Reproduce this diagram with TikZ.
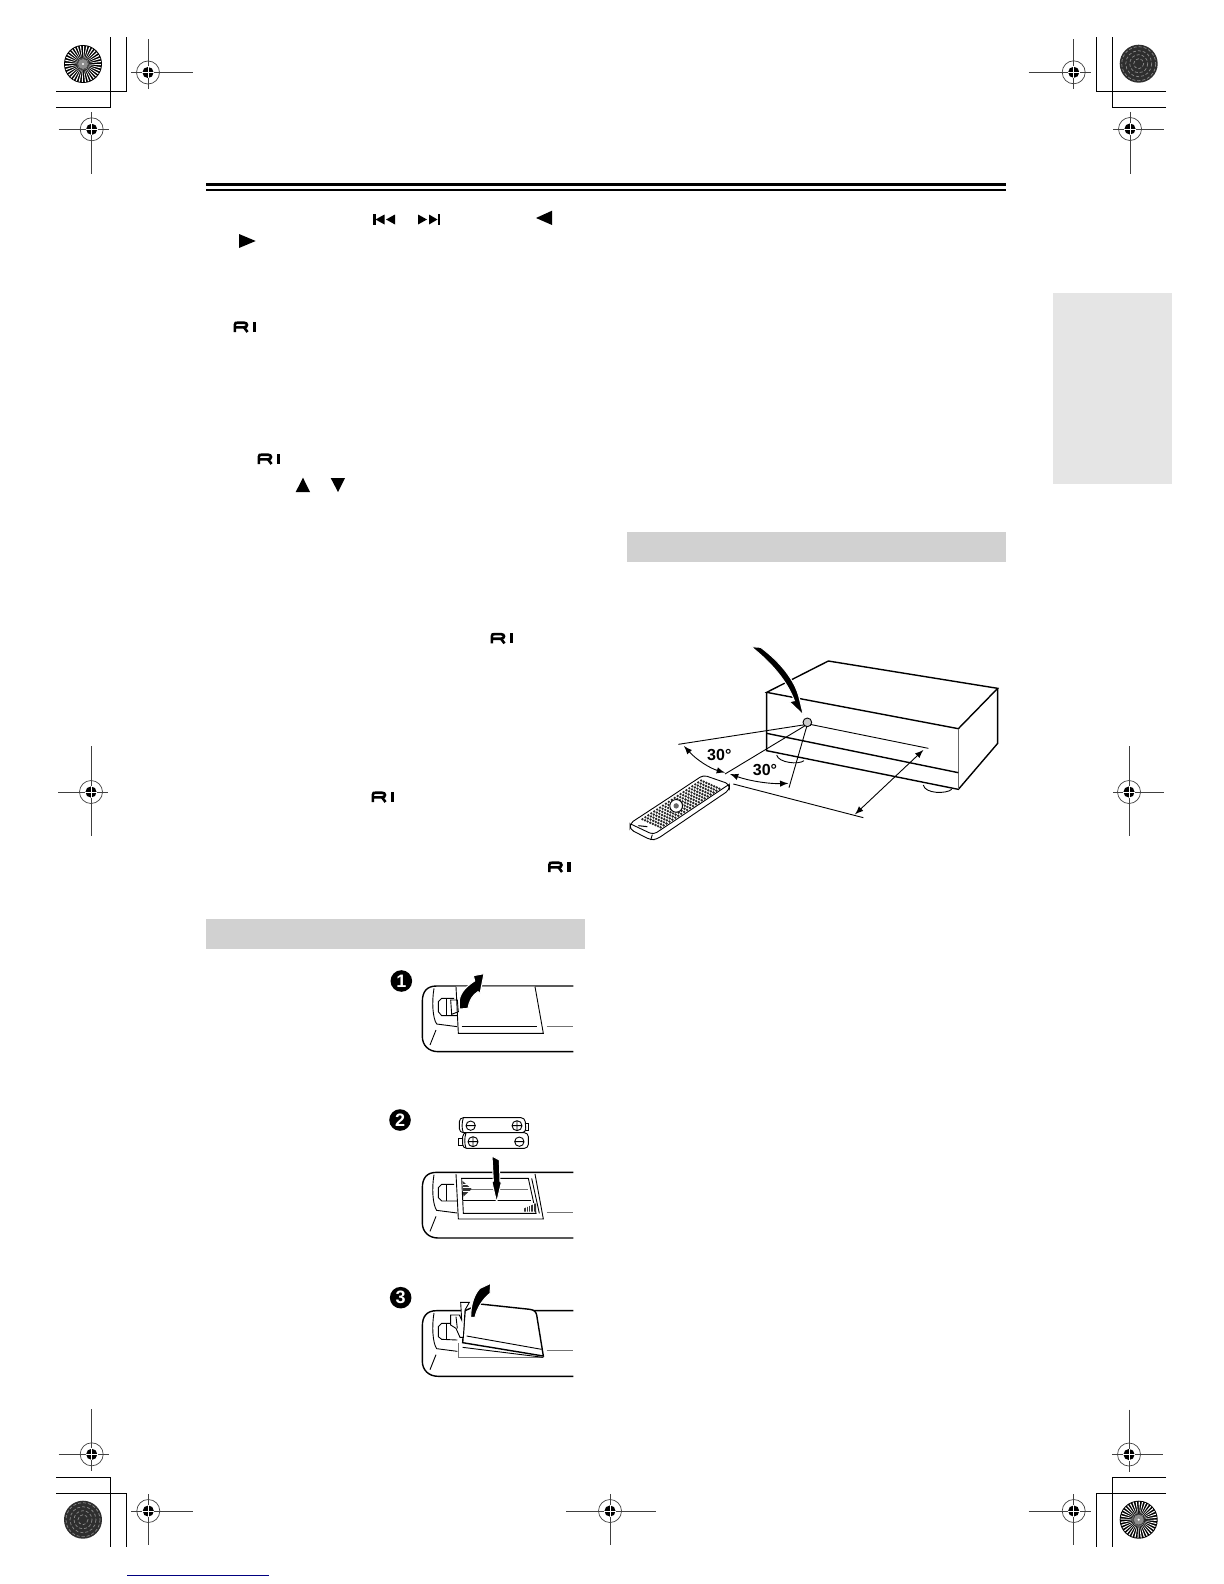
\documentclass[tikz,border=0pt]{standalone}
\usepackage{fontspec}
\setmainfont{Liberation Sans}
\tikzset{
  fine/.style={line width=.35pt,black!75},
  trim/.style={line width=.6pt},
  outline/.style={line width=.7pt},
  thinline/.style={line width=.45pt},
  palegrey/.style={line width=.4pt,black!55},
  bar/.style={fill=black!18},
  swoosh/.style={fill=black,draw=white,line width=.5pt},
  stepdot/.style={circle,fill=black,text=white,inner sep=0pt,minimum size=10.8pt,font=\fontsize{9}{9}\selectfont\bfseries},
  angletag/.style={font=\fontsize{8}{8}\selectfont\bfseries,inner sep=0pt},
  zoomed/.style={shift={(#1)},x=.16667pt,y=-.16667pt},
  pics/regmark/.style n args={4}{code={
    \draw[fine] (-#1,0) -- (#2,0);
    \draw[fine] (0,-#3) -- (0,#4);
    \draw[fine] (0,0) circle (11.5);
    \fill[black] (0,0) circle (5.6);
    \draw[white,line width=.35pt] (-6,0) -- (6,0) (0,-6) -- (0,6);
  }},
  pics/cornermark/.style n args={4}{code={
    % #1,#2 = corner of the outer angle, #3,#4 = far ends
    \draw[trim] (#3,#2) -- (#1,#2) -- (#1,#4);
  }},
  pics/radialdisk/.style={code={
    \fill[black] (0,0) circle (19);
    \foreach \ang in {0,10,...,350}
      \fill[white] (\ang:18) -- (\ang+4:18) -- (\ang+2:4) -- cycle;
    \fill[black!45] (0,0) circle (5);
    \fill[white] (0,0) circle (1.2);
  }},
  pics/darkdisk/.style={code={
    \fill[black!82] (0,0) circle (19);
    \foreach \rad in {5,9,13,17}
      \draw[black!45,line width=.35pt,dash pattern=on 1.5pt off 1pt] (0,0) circle (\rad);
  }},
  pics/logori/.style={code={
    \draw[line width=1.3pt,line cap=butt] (-10.2,5) -- (-10.2,-2) .. controls (-10.2,-4.3) and (-9,-4.3) .. (-7,-4.3) -- (-1,-4.3)
      .. controls (3,-4.3) and (3,.3) .. (-1,.3) -- (-9,.3);
    \draw[line width=1.3pt] (-1,.3) -- (2.5,5);
    \fill (7.5,-5) rectangle (11,5);
  }},
  pics/remoteback/.style={code={
    \draw[outline] (580,93) -- (170,93) .. controls (140,93) and (127,110) .. (127,140) -- (127,245)
      .. controls (127,270) and (145,290) .. (175,290) -- (580,290);
    \draw[thinline] (162,100) .. controls (155,140) and (158,190) .. (170,207) -- (232,215);
    \draw[thinline] (168,225) -- (150,270);
    \draw[palegrey] (500,213) -- (580,213);
  }},
}
\begin{document}
\begin{tikzpicture}[x=.5pt,y=-.5pt,>=latex]
  \useasboundingbox (0,0) rectangle (1224,1584);

  % printer marks
  \pic at (148,72.5) {regmark={17}{45}{33}{17}};
  \pic at (91.7,129.3) {regmark={33}{17}{17}{45}};
  \pic at (1073.7,72.3) {regmark={45}{17}{33}{17}};
  \pic at (1130,129) {regmark={17}{34}{17}{45}};
  \pic at (91,792) {regmark={33}{17}{46}{44}};
  \pic at (1129,792) {regmark={16}{35}{46}{44}};
  \pic at (91.7,1454.3) {regmark={33}{17}{45}{17}};
  \pic at (148.3,1511) {regmark={17}{45}{17}{34}};
  \pic at (610,1511) {regmark={44}{46}{17}{34}};
  \pic at (1073.7,1511) {regmark={45}{17}{17}{34}};
  \pic at (1129,1454.5) {regmark={17}{34}{45}{17}};

  \pic {cornermark={110.3}{107.3}{56}{37}};
  \pic {cornermark={126.5}{91.3}{56}{37}};
  \pic {cornermark={1096.3}{91.3}{1166}{37}};
  \pic {cornermark={1112.3}{107.3}{1166}{37}};
  \pic {cornermark={110.3}{1477.3}{56}{1546.7}};
  \pic {cornermark={126.5}{1493.3}{56}{1546.7}};
  \pic {cornermark={1096.3}{1493.3}{1166}{1546.7}};
  \pic {cornermark={1112.3}{1477.3}{1166}{1546.7}};

  \pic at (83,64) {radialdisk};
  \pic at (1138.7,63.7) {darkdisk};
  \pic at (83,1519.7) {darkdisk};
  \pic at (1138.7,1519.7) {radialdisk};

  \draw[line width=.6pt,blue!50!black] (127,1575.3) -- (269,1575.3);

  % page furniture
  \draw[line width=1.8pt] (206,184.5) -- (1006,184.5);
  \draw[line width=.6pt] (206,190) -- (1006,190);
  \fill[black!10] (1052.5,293) rectangle (1172,484);
  \fill[bar] (627,531.5) rectangle (1006,561.5);
  \fill[bar] (206,918.5) rectangle (584.5,949);

  % transport symbols
  \fill (373,214) rectangle (375.5,225);
  \fill (375.5,219.5) -- (384.5,214.5) -- (384.5,224.5) -- cycle;
  \fill (386,219.5) -- (395,214.5) -- (395,224.5) -- cycle;
  \fill (437.5,214) rectangle (440,225);
  \fill (429,214.5) -- (437.5,219.5) -- (429,224.5) -- cycle;
  \fill (418,214.5) -- (427,219.5) -- (418,224.5) -- cycle;
  \fill (536,218) -- (552,210.7) -- (552,225) -- cycle;
  \fill (239,234) -- (255.7,241) -- (239,248) -- cycle;
  \fill (303,477.7) -- (310,492) -- (295.7,492) -- cycle;
  \fill (330.7,478) -- (345,478) -- (338,492) -- cycle;
  \foreach \spot in {(245,327),(269,459),(502,638.4),(383,797),(559.5,867)}
    \pic at \spot {logori};

  % first panel
  \begin{scope}[zoomed={380,955}]
    \pic {remoteback};
    \draw[thinline] (222,130) -- (185,130) -- (175,140) -- (175,170) -- (185,182) -- (232,182);
    \draw[thinline] (200,132) -- (200,180);
    \draw[thinline,fill=white] (228,95) -- (235,235) -- (490,235) -- (465,95);
    \draw[thinline] (245,213) -- (472,213);
    \draw[thinline] (212,135) -- (232,135) -- (235,170) -- (215,178) -- cycle;
    \draw[swoosh] (238,162) -- (264,160) .. controls (268,135) and (278,120) .. (294,110) -- (300,116)
      -- (312,56) -- (280,62) -- (284,78) .. controls (262,92) and (242,110) .. (238,135) -- cycle;
    \node[stepdot] (stepone) at (64,78) {1};
  \end{scope}

  % second panel
  \begin{scope}[zoomed={380,1095}]
    \begin{scope}[yshift=-23.17pt]
      \pic {remoteback};
    \end{scope}
    \draw[thinline] (222,268) -- (185,268) -- (175,278) -- (175,308) -- (185,318) -- (232,318);
    \draw[thinline] (200,270) -- (200,318);
    \draw[thinline,fill=white] (228,237) -- (235,372) -- (490,372) -- (465,237);
    \draw[thinline] (245,250) -- (250,355) -- (468,355) -- (445,250) -- cycle;
    \draw[thinline] (455,250) -- (478,355);
    \draw[palegrey] (272,283) -- (445,283);
    \draw[thinline] (250,317) -- (452,317);
    \fill[black!80] (248,258) -- (275,282) -- (250,305) -- cycle;
    \foreach \row in {268,278,288}
      \draw[white,line width=.3pt] (248,\row) -- (272,\row);
    \fill[black!80] (432,350) -- (432,340) -- (468,325) -- (468,350) -- cycle;
    \foreach \col in {438,445,452,459}
      \draw[white,line width=.3pt] (\col,325) -- (\col,352);
    \draw[swoosh] (336,183) -- (358,195) -- (360,260) -- (364,262) -- (350,322) -- (336,262) -- (340,258) -- cycle;
    % batteries
    \draw[thinline,fill=white] (435,85) -- (445,85) -- (445,105) -- (435,105);
    \draw[thinline,fill=white] (250,130) -- (235,130) -- (235,150) -- (250,150);
    \draw[thinline,rounded corners=2pt,fill=white] (238,68) -- (435,68) -- (438,113) -- (238,113) -- cycle;
    \draw[thinline,rounded corners=2pt,fill=white] (248,113) -- (445,113) -- (445,160) -- (248,160) -- cycle;
    \draw[thinline] (250,68) .. controls (245,85) and (245,100) .. (250,113);
    \draw[thinline] (258,113) .. controls (253,130) and (253,145) .. (258,160);
    \draw[thinline] (272,92) circle (14) (258,92) -- (286,92);
    \draw[thinline] (411,92) circle (15) (396,92) -- (426,92) (411,77) -- (411,107);
    \draw[thinline] (279,140) circle (15) (264,140) -- (294,140) (279,125) -- (279,155);
    \draw[thinline] (418,140) circle (14) (404,140) -- (432,140);
    \node[stepdot] (steptwo) at (60,75) {2};
  \end{scope}

  % third panel
  \begin{scope}[zoomed={380,1260}]
    \begin{scope}[yshift=-9.83pt]
      \pic {remoteback};
    \end{scope}
    \draw[thinline] (222,190) -- (185,190) -- (175,200) -- (175,230) -- (185,238) -- (232,240);
    \draw[thinline] (200,192) -- (200,238);
    \draw[palegrey] (235,250) -- (235,293) -- (490,293);
    \draw[outline,fill=white] (255,152) -- (300,132) -- (450,148) .. controls (462,150) and (468,155) .. (470,165)
      -- (490,288) -- (248,248) -- cycle;
    \draw[thinline] (260,228) -- (485,268);
    \draw[thinline] (248,262) -- (490,292);
    \draw[thinline,fill=white] (242,127) -- (268,127) -- (255,150) -- (250,232) -- (240,232) -- (228,205)
      -- (212,195) -- (212,165) -- (238,165) -- (245,180) -- cycle;
    \draw[thinline] (228,170) -- (232,205);
    \draw[swoosh] (272,172) -- (285,172) .. controls (290,145) and (310,115) .. (330,100) -- (332,70)
      -- (300,85) .. controls (285,100) and (272,130) .. cycle;
    \node[stepdot] (stepthree) at (62,113) {3};
  \end{scope}

  % receiver
  \begin{scope}[zoomed={610,630}]
    \draw[thinline] (500,375) .. controls (505,398) and (565,405) .. (582,392);
    \draw[thinline] (940,465) .. controls (945,492) and (1010,492) .. (1025,478);
    \draw[outline] (470,187) -- (655,93) -- (1163,175) -- (1045,296) -- cycle;
    \draw[outline] (470,187) -- (470,362) -- (1045,478) -- (1163,340) -- (1163,175);
    \draw[thinline,black!60] (1045,296) -- (1045,478);
    \draw[outline] (470,310) -- (1045,428);
    \draw[thinline] (600,283) -- (955,355);
    \draw[thinline] (592,283) -- (205,343);
    \draw[thinline] (592,283) -- (345,432);
    \draw[thinline] (592,283) -- (537,473);
    \draw[thinline] (370,462) -- (760,563);
    \draw[thinline,fill=black!20] (592,277) circle (13);
    \draw[thinline,<->] (222,348) .. controls (260,390) and (300,415) .. (345,428);
    \draw[thinline,<->] (360,432) .. controls (415,452) and (475,462) .. (535,460);
    \draw[thinline,<->] (940,360) -- (735,553);
    \draw[swoosh] (423,50) -- (452,52) .. controls (510,95) and (555,150) .. (568,205) -- (580,255) -- (538,215) -- (553,212)
      .. controls (530,150) and (480,95) .. cycle;
    \node[angletag] (leftangle) at (328,376) {30°};
    \node[angletag] (rightangle) at (465,420) {30°};
  \end{scope}

  % handset
  \begin{scope}[zoomed={620,760}]
    \draw[thinline,fill=white,rounded corners=2pt] (140,118) -- (250,45) -- (328,72) -- (328,90) -- (110,238) -- (92,240) -- (30,208) -- (30,190) -- cycle;
    \draw[thinline,rounded corners=2pt] (32,192) -- (100,224) -- (326,74);
    \draw[thinline] (92,240) -- (97,224);
    \foreach \s in {.12,.16,...,.95}
      \foreach \t in {.14,.24,...,.9}
        \fill[black!85] ({30+\s*220+\t*78},{190-\s*145+\t*35}) circle (4);
    \draw[thinline,fill=white] ({30+.47*220+.45*78},{190-.47*145+.45*35}) circle (19);
    \fill[black!60] ({30+.47*220+.45*78},{190-.47*145+.45*35}) circle (8);
    \draw[line width=.5pt] (55,197) -- (82,200);
  \end{scope}
\end{tikzpicture}
\end{document}
